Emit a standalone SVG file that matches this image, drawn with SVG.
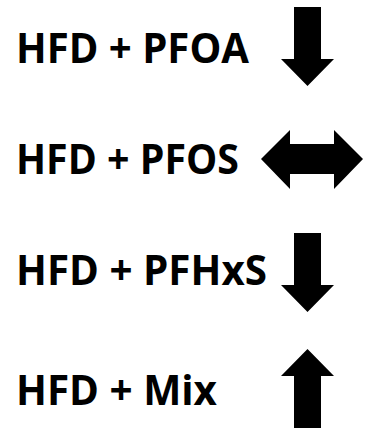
<svg xmlns="http://www.w3.org/2000/svg" width="367" height="428" viewBox="0 0 367 428">
<style>
.t{font-family:"Open Sans","Liberation Sans",sans-serif;font-weight:bold;font-size:41px;fill:#000}
.a{fill:#000;stroke:none}
</style>
<rect width="367" height="428" fill="#fff"/>
<g id="n1"><text class="t" x="16" y="63" textLength="233" lengthAdjust="spacingAndGlyphs">HFD + PFOA</text></g>
<g id="n2"><text class="t" x="16" y="174" textLength="223" lengthAdjust="spacingAndGlyphs">HFD + PFOS</text></g>
<g id="n3"><text class="t" x="16" y="285" textLength="251" lengthAdjust="spacingAndGlyphs">HFD + PFHxS</text></g>
<g id="n4"><text class="t" x="16" y="405" textLength="201" lengthAdjust="spacingAndGlyphs">HFD + Mix</text></g>
<g id="arrows">
<path class="a" d="M294,7 H321 V59 H334 L307.5,86 L281,59 H294 Z"/>
<path class="a" d="M261,159 L290,130 V144 H334 V130 L363,159 L334,189 V174 H290 V189 Z"/>
<path class="a" d="M294,233 H321 V285 H334 L307.5,312 L281,285 H294 Z"/>
<path class="a" d="M307.5,349 L334,376 H321 V428 H294 V376 H281 Z"/>
</g>
</svg>
